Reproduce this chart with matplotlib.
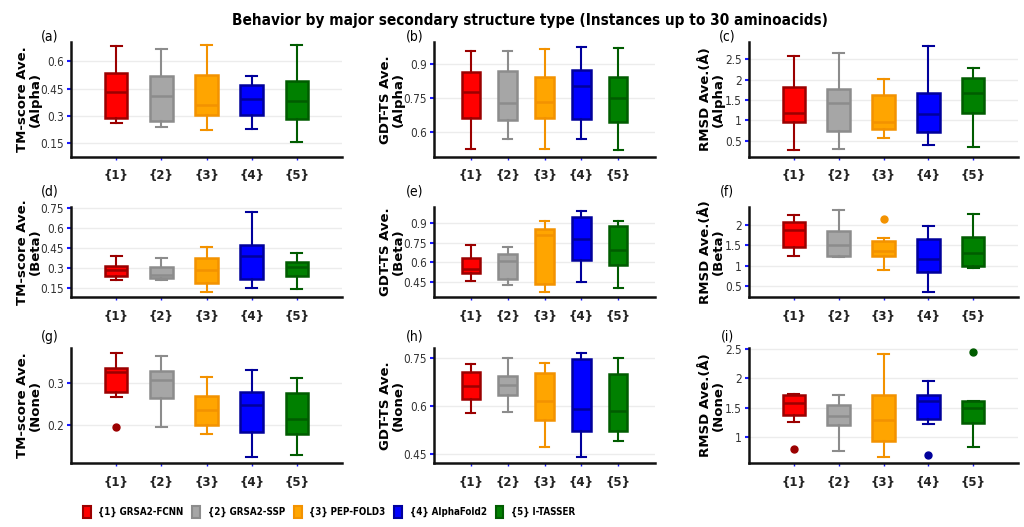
import matplotlib.pyplot as plt
from matplotlib.patches import Patch
from matplotlib.ticker import FuncFormatter

ticklabels = ['{1}', '{2}', '{3}', '{4}', '{5}']
models = ['{1} GRSA2-FCNN', '{2} GRSA2-SSP', '{3} PEP-FOLD3', '{4} AlphaFold2', '{5} I-TASSER']
fills = ['#ff0000', '#a6a6a6', '#ffa500', '#0000ff', '#008000']
edges = ['#9b0000', '#8c8c8c', '#f39200', '#00009b', '#005c00']

# per model: [whisker low, q1, median, q3, whisker high]
tm_alpha = [[0.262, 0.290, 0.429, 0.533, 0.684],
            [0.240, 0.273, 0.408, 0.518, 0.664],
            [0.222, 0.304, 0.361, 0.523, 0.689],
            [0.228, 0.304, 0.390, 0.472, 0.518],
            [0.158, 0.281, 0.383, 0.492, 0.691]]
gdt_alpha = [[0.525, 0.663, 0.778, 0.864, 0.959],
             [0.567, 0.653, 0.727, 0.870, 0.959],
             [0.523, 0.663, 0.731, 0.842, 0.969],
             [0.570, 0.656, 0.804, 0.875, 0.978],
             [0.518, 0.645, 0.749, 0.845, 0.971]]
rmsd_alpha = [[0.28, 0.95, 1.19, 1.81, 2.58],
              [0.30, 0.75, 1.42, 1.77, 2.66],
              [0.58, 0.78, 0.95, 1.63, 2.02],
              [0.39, 0.71, 1.16, 1.67, 2.81],
              [0.35, 1.19, 1.67, 2.03, 2.28]]
tm_beta = [[0.212, 0.237, 0.286, 0.311, 0.385],
           [0.207, 0.220, 0.249, 0.306, 0.372],
           [0.118, 0.187, 0.281, 0.375, 0.457],
           [0.150, 0.214, 0.385, 0.474, 0.716],
           [0.138, 0.237, 0.306, 0.343, 0.409]]
gdt_beta = [[0.460, 0.518, 0.549, 0.634, 0.729],
            [0.427, 0.471, 0.613, 0.665, 0.716],
            [0.372, 0.432, 0.810, 0.853, 0.918],
            [0.450, 0.618, 0.776, 0.944, 0.995],
            [0.404, 0.577, 0.693, 0.879, 0.918]]
rmsd_beta = [[1.25, 1.46, 1.88, 2.08, 2.25],
             [1.21, 1.25, 1.50, 1.85, 2.36],
             [0.89, 1.23, 1.37, 1.60, 1.69],
             [0.36, 0.84, 1.17, 1.66, 1.98],
             [0.94, 0.99, 1.32, 1.70, 2.27]]
tm_none = [[0.267, 0.279, 0.326, 0.334, 0.370],
           [0.196, 0.263, 0.306, 0.327, 0.362],
           [0.180, 0.201, 0.237, 0.269, 0.314],
           [0.127, 0.185, 0.248, 0.279, 0.330],
           [0.131, 0.181, 0.215, 0.275, 0.310]]
gdt_none = [[0.577, 0.623, 0.662, 0.704, 0.730],
            [0.581, 0.633, 0.664, 0.693, 0.750],
            [0.473, 0.557, 0.614, 0.701, 0.732],
            [0.442, 0.521, 0.591, 0.745, 0.766],
            [0.492, 0.521, 0.584, 0.698, 0.750]]
rmsd_none = [[1.25, 1.38, 1.57, 1.72, 1.74],
             [0.75, 1.20, 1.36, 1.55, 1.71],
             [0.66, 0.93, 1.28, 1.71, 2.41],
             [1.21, 1.31, 1.62, 1.71, 1.95],
             [0.82, 1.24, 1.50, 1.62, 1.62]]

# outliers per model
no_out = [[], [], [], [], []]
rmsd_beta_out = [[], [], [2.14], [], []]
tm_none_out = [[0.197], [], [], [], []]
rmsd_none_out = [[0.79], [], [], [0.68], [2.45]]

W, H = 1024, 527
cols = [(71, 342), (434, 655), (749, 1018)]
rows = [(42, 157), (207, 297), (348, 463)]
label_x = [29, 392, 712]
tag_x = [50, 415, 727]
tag_y = [37, 192, 337]

panels = [
    ('(a)', tm_alpha, no_out, 'TM-score Ave.\n(Alpha)', [0.15, 0.3, 0.45, 0.6], (0.075, 0.705)),
    ('(b)', gdt_alpha, no_out, 'GDT-TS Ave.\n(Alpha)', [0.6, 0.75, 0.9], (0.489, 0.999)),
    ('(c)', rmsd_alpha, no_out, 'RMSD Ave.(Å)\n(Alpha)', [0.5, 1, 1.5, 2, 2.5], (0.105, 2.92)),
    ('(d)', tm_beta, no_out, 'TM-score Ave.\n(Beta)', [0.15, 0.3, 0.45, 0.6, 0.75], (0.081, 0.755)),
    ('(e)', gdt_beta, no_out, 'GDT-TS Ave.\n(Beta)', [0.45, 0.6, 0.75, 0.9], (0.334, 1.024)),
    ('(f)', rmsd_beta, rmsd_beta_out, 'RMSD Ave.(Å)\n(Beta)', [0.5, 1, 1.5, 2], (0.235, 2.44)),
    ('(g)', tm_none, tm_none_out, 'TM-score Ave.\n(None)', [0.2, 0.3], (0.112, 0.381)),
    ('(h)', gdt_none, no_out, 'GDT-TS Ave.\n(None)', [0.45, 0.6, 0.75], (0.423, 0.78)),
    ('(i)', rmsd_none, rmsd_none_out, 'RMSD Ave.(Å)\n(None)', [1, 1.5, 2, 2.5], (0.55, 2.52)),
]

narrow = dict(family='DejaVu Sans', stretch='condensed')

fig = plt.figure(figsize=(W / 100, H / 100), dpi=100)

for i, (tag, data, outs, ylab, yt, ylim) in enumerate(panels):
    r, c = divmod(i, 3)
    x0, x1 = cols[c]
    top, bot = rows[r]
    ax = fig.add_axes([x0 / W, 1 - bot / H, (x1 - x0) / W, (bot - top) / H])

    stats = []
    for j, (lo, q1, med, q3, hi) in enumerate(data):
        stats.append(dict(whislo=lo, q1=q1, med=med, q3=q3, whishi=hi, fliers=outs[j]))
    bp = ax.bxp(stats, positions=range(1, 6), widths=0.5, patch_artist=True,
                capwidths=0.25, manage_ticks=False)
    for j in range(5):
        bp['boxes'][j].set(facecolor=fills[j], edgecolor=edges[j], linewidth=1.8)
        bp['medians'][j].set(color=edges[j], linewidth=1.8)
        for k in (2 * j, 2 * j + 1):
            bp['whiskers'][k].set(color=edges[j], linewidth=1.5)
            bp['caps'][k].set(color=edges[j], linewidth=1.5)
        bp['fliers'][j].set(marker='o', markersize=5, markerfacecolor=edges[j],
                            markeredgecolor=edges[j])

    ax.set_xlim(0, 6)
    ax.set_ylim(*ylim)
    ax.set_yticks(yt)
    ax.yaxis.set_major_formatter(FuncFormatter(lambda v, p: '%g' % v))
    ax.set_xticks(range(1, 6))
    ax.set_xticklabels(ticklabels, fontweight='bold', fontsize=8.5, family='DejaVu Sans')
    for t in ax.get_yticklabels():
        t.set(fontsize=8.5, color='#333333', **narrow)
    ax.tick_params(axis='y', colors='#1a1aff', length=3, width=1.5, pad=2, labelcolor='#333333')
    ax.tick_params(axis='x', colors='#1a1aff', length=2, width=1, pad=7, labelcolor='#222222')
    ax.grid(axis='y', color='#ececec', linewidth=1)
    ax.set_axisbelow(True)
    for s in ('top', 'right'):
        ax.spines[s].set_visible(False)
    for s in ('left', 'bottom'):
        ax.spines[s].set_linewidth(1.8)
        ax.spines[s].set_color('#111111')

    fig.text(label_x[c] / W, 1 - (top + bot) / 2 / H, ylab, rotation=90, ha='center',
             va='center', fontsize=9.5, fontweight='bold', linespacing=1.0)
    fig.text(tag_x[c] / W, 1 - tag_y[r] / H, tag, ha='center', va='center',
             fontsize=10, **narrow)

fig.text(530 / W, 1 - 20 / H,
         'Behavior by major secondary structure type (Instances up to 30 aminoacids)',
         ha='center', va='center', fontsize=11, fontweight='bold', **narrow)

handles = [Patch(facecolor=fills[j], edgecolor=edges[j], linewidth=1.5) for j in range(5)]
fig.legend(handles, models, loc='center left', bbox_to_anchor=(74 / W, 1 - 512 / H), ncol=5,
           frameon=False, handlelength=0.8, handleheight=1.5, handletextpad=0.8,
           columnspacing=0.9, prop=dict(size=7, weight='bold', **narrow))

fig.savefig('out.png', dpi=100)
